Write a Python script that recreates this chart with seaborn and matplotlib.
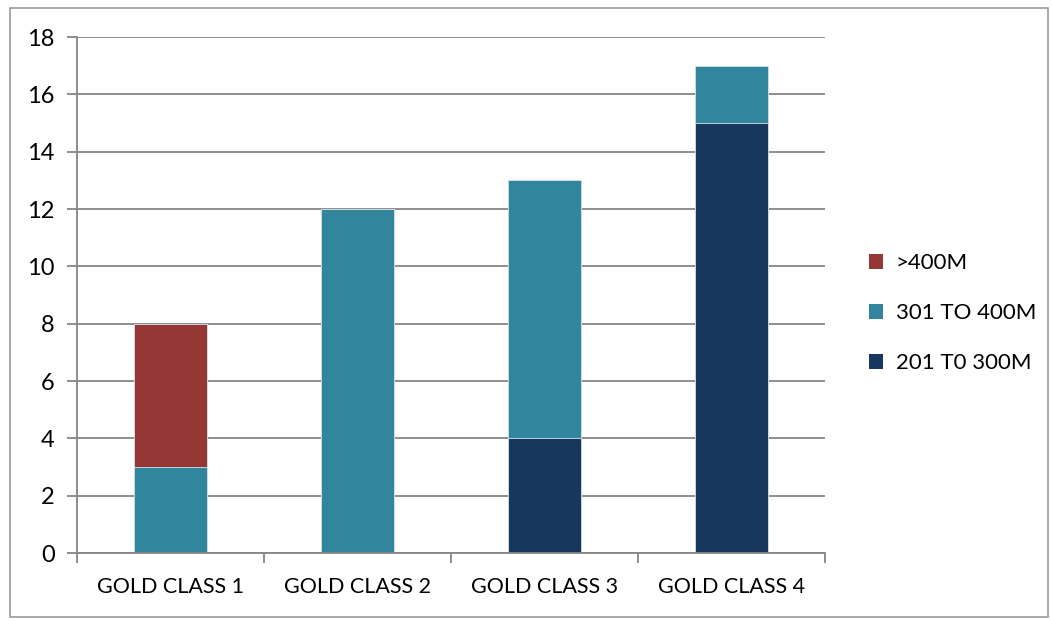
import numpy as np
import pandas as pd
import matplotlib
matplotlib.use("Agg")
import matplotlib.pyplot as plt
import seaborn as sns
from matplotlib.patches import Patch, Rectangle

# data
categories = ["GOLD CLASS 1", "GOLD CLASS 2", "GOLD CLASS 3", "GOLD CLASS 4"]
s_201_300 = [0, 0, 4, 15]
s_301_400 = [3, 12, 9, 2]
s_400_plus = [5, 0, 0, 0]
series_names = [">400M", "301 TO 400M", "201 T0 300M"]
colors = {"201 T0 300M": "#17375E", "301 TO 400M": "#31859C", ">400M": "#953735"}

sns.set_theme(style="white")
plt.rcParams['font.family'] = ['Lato', 'DejaVu Sans']

df = pd.DataFrame({
    "cat": categories,
    "low": s_201_300,
    "mid": np.array(s_201_300) + np.array(s_301_400),
    "top": np.array(s_201_300) + np.array(s_301_400) + np.array(s_400_plus),
})

fig = plt.figure(figsize=(10.52, 6.21), dpi=100)
ax = fig.add_axes([77 / 1052, 1 - 553 / 621, (825 - 77) / 1052, (553 - 37) / 621])

grid_c = "#868686"
ax.set_axisbelow(True)
ax.yaxis.grid(True, color=grid_c, linewidth=1.3)

# stacked by overlaying cumulative totals, tallest first
for col, name in [("top", ">400M"), ("mid", "301 TO 400M"), ("low", "201 T0 300M")]:
    sns.barplot(data=df, x="cat", y=col, color=colors[name], width=0.39,
                saturation=1, edgecolor="#d8e4ea", linewidth=0.6, ax=ax)

ax.set_ylim(0, 18)
ax.set_yticks(range(0, 19, 2))
ax.set_xlim(-0.5, 3.5)
ax.set_xlabel("")
ax.set_ylabel("")

for side in ["top", "right"]:
    ax.spines[side].set_visible(False)
for side in ["left", "bottom"]:
    ax.spines[side].set_color(grid_c)
    ax.spines[side].set_linewidth(1.3)

ax.set_xticks(range(4))
ax.set_xticklabels(categories)
ax.set_xticks(np.arange(-0.5, 4, 1), minor=True)
ax.tick_params(axis="x", which="major", bottom=False, length=0, pad=17,
               labelsize=15.5, labelcolor="black")
ax.tick_params(axis="x", which="minor", bottom=True, length=7, width=1.3,
               color=grid_c, direction="out")
ax.tick_params(axis="y", which="major", left=True, length=7, width=1.3, color=grid_c,
               direction="out", labelsize=17, labelcolor="black", pad=9)

handles = [Patch(facecolor=colors[n], edgecolor="none") for n in series_names]
fig.legend(handles, series_names, loc="center left", bbox_to_anchor=(849 / 1052, 1 - 313 / 621),
           frameon=False, fontsize=16, handlelength=0.65, handleheight=0.65,
           handletextpad=0.55, labelspacing=1.35, labelcolor="black")

# outer chart border
fig.patches.append(Rectangle((10 / 1052, 1 - 617 / 621), (1048 - 10) / 1052, (617 - 8) / 621,
                             transform=fig.transFigure, fill=False, edgecolor="#9a9a9a", linewidth=1.2))

fig.savefig("out.png", dpi=100)
